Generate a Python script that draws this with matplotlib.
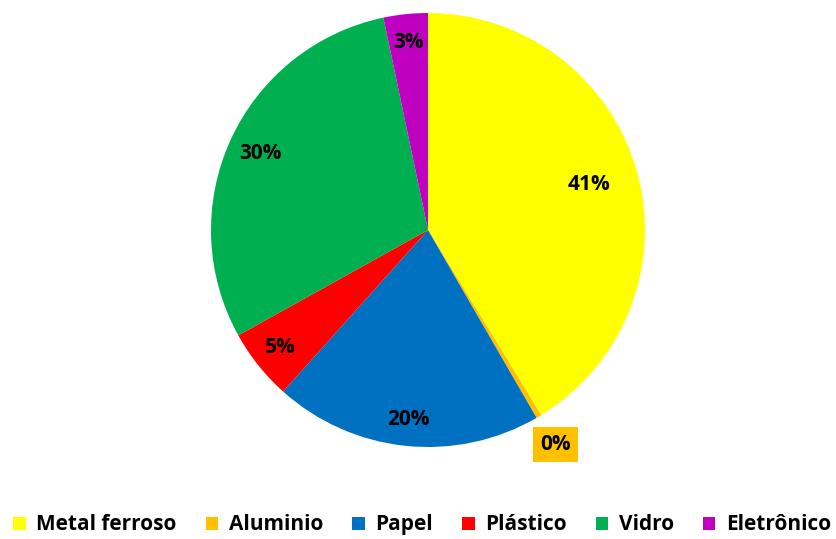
import numpy as np
import matplotlib.pyplot as plt

categories = ["Metal ferroso", "Aluminio", "Papel", "Plástico", "Vidro", "Eletrônico"]
values = [41.3, 0.4, 20.0, 5.3, 29.8, 3.3]
pct_labels = ["41%", "0%", "20%", "5%", "30%", "3%"]
colors = ["#FFFF00", "#FFC000", "#0070C0", "#FF0000", "#00B050", "#C000C0"]

plt.rcParams['font.family'] = ['Open Sans', 'DejaVu Sans']

fig = plt.figure(figsize=(8.36, 5.39), dpi=100)
ax = fig.add_axes([211 / 836, 92 / 539, 434 / 836, 434 / 539])

wedges, _ = ax.pie(values, colors=colors, startangle=90, counterclock=False,
                   wedgeprops=dict(linewidth=0))
ax.set_aspect('equal')
ax.set_xlim(-1, 1)
ax.set_ylim(-1, 1)

# label distance from centre for each slice
dist = [0.77, 1.15, 0.88, 0.87, 0.85, 0.87]
for w, lab, d in zip(wedges, pct_labels, dist):
    ang = np.deg2rad((w.theta1 + w.theta2) / 2)
    x, y = d * np.cos(ang), d * np.sin(ang)
    if lab == "0%":
        ax.text(x, y, lab, ha='center', va='center', fontsize=15, fontweight='bold',
                bbox=dict(boxstyle='square,pad=0.35', fc='#FFC000', ec='none'))
    else:
        ax.text(x, y, lab, ha='center', va='center', fontsize=15, fontweight='bold')

fig.legend(wedges, categories, loc='center', bbox_to_anchor=(0.505, 0.026), ncol=6,
           frameon=False, prop=dict(weight='bold', size=15),
           handlelength=0.6, handleheight=0.6, handletextpad=0.5, columnspacing=1.4)

fig.savefig("out.png", dpi=100)
